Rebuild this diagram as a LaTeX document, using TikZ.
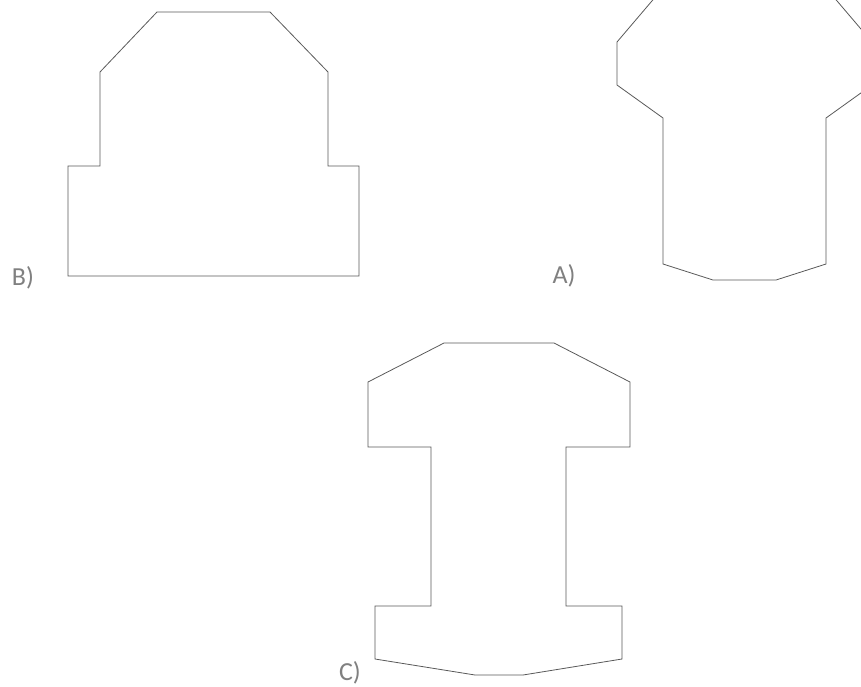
\documentclass[tikz,border=0pt]{standalone}
\usepackage{fontspec}
\setmainfont{Carlito}

\begin{document}
\begin{tikzpicture}[x=1pt,y=-1pt]
\tikzstyle{outline}=[draw=black!65,line width=0.8pt,line join=miter]
\tikzstyle{lbl}=[text=black!50,font=\fontsize{26}{28}\selectfont,inner sep=0pt]
\useasboundingbox (0,0) rectangle (861,686);
\clip (0,0) rectangle (861,686);
% B
\draw [outline] (68,276) -- (359,276) -- (359,166) -- (328,166) -- (328,72) -- (270,12)
  -- (157,12) -- (100,72) -- (100,166) -- (68,166) -- cycle;
\node [lbl] (labB) at (23,278) {B)};
% A
\draw [outline] (663,264) -- (663,118) -- (617,85) -- (617,42) -- (680,-32) -- (809,-32)
  -- (872,42) -- (872,85) -- (826,118) -- (826,264) -- (776,280) -- (713,280) -- cycle;
\node [lbl] (labA) at (564,276) {A)};
% C
\draw [outline] (444,343) -- (554,343) -- (630,382) -- (630,447) -- (566,447) -- (566,606)
  -- (622,606) -- (622,659) -- (523,675) -- (475,675) -- (375,659) -- (375,606)
  -- (431,606) -- (431,447) -- (368,447) -- (368,382) -- cycle;
\node [lbl] (labC) at (350,673) {C)};
\end{tikzpicture}
\end{document}
